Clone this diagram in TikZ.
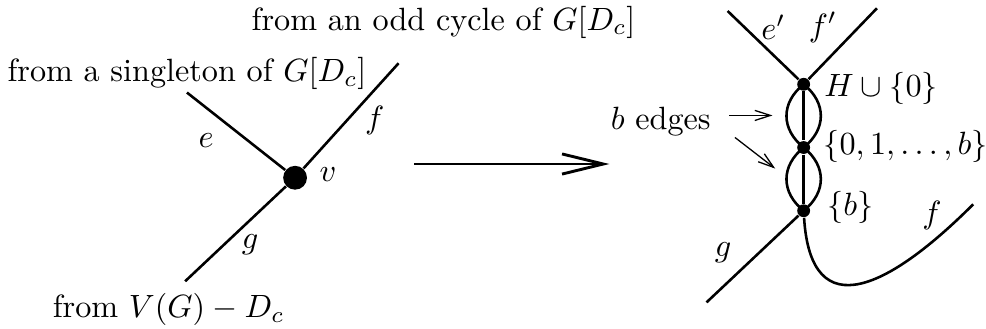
\documentclass[tikz,border=0pt]{standalone}
\usepackage{tikz}
\usetikzlibrary{arrows.meta}

\begin{document}
\begin{tikzpicture}
    % Define styles
    \tikzstyle{edge} = [draw, thick]
    \tikzstyle{bigdot} = [circle, fill, inner sep=0pt, minimum size=2.6mm]
    \tikzstyle{dot} = [circle, fill, inner sep=0pt, minimum size=1.4mm]
    \tikzstyle{pointer} = [draw, -{Straight Barb[length=1.7mm,width=1.1mm]}]
    \tikzstyle{bigarrow} = [draw, line width=0.9pt, -{Straight Barb[length=4.5mm,width=2.2mm]}]

    \useasboundingbox (0,0) rectangle (10.76,3.59);

    % Vertex v and its three edges
    \node [bigdot] (v) at (3.22,1.65) {};
    \coordinate (eend) at (2.04,2.58);
    \coordinate (fend) at (4.35,2.90);
    \coordinate (gend) at (2.02,0.52);
    \path [edge] (eend) -- (v);
    \path [edge] (fend) -- (v);
    \path [edge] (gend) -- (v);

    \node (le) at (2.25,2.06) {$e$};
    \node (lf) at (4.09,2.28) {$f$};
    \node (lv) at (3.58,1.68) {$v$};
    \node (lg) at (2.73,0.92) {$g$};

    % Where the edges come from
    \node (srcsingle) at (2.04,2.79) {from a singleton of $G[D_c]$};
    \node (srcodd) at (4.84,3.35) {from an odd cycle of $G[D_c]$};
    \node (srcrest) at (1.84,0.21) {from $V(G)-D_c$};

    % Replacement
    \coordinate (arrs) at (4.52,1.80);
    \coordinate (arre) at (6.65,1.80);
    \path [bigarrow] (arrs) -- (arre);

    % Split vertex
    \node [dot] (top) at (8.77,2.67) {};
    \node [dot] (mid) at (8.77,1.98) {};
    \node [dot] (bot) at (8.77,1.29) {};
    \coordinate (e2end) at (7.94,3.47);
    \coordinate (f2end) at (9.57,3.50);
    \coordinate (g2end) at (7.71,0.29);
    \coordinate (fcend) at (10.62,1.36);

    \path [edge] (e2end) -- (top);
    \path [edge] (f2end) -- (top);
    \path [edge] (top) -- (mid);
    \path [edge] (mid) -- (bot);
    \path [edge] (top.center) .. controls +(-0.25,-0.2) and +(-0.25,0.2) .. (mid.center);
    \path [edge] (top.center) .. controls +(0.25,-0.2) and +(0.25,0.2) .. (mid.center);
    \path [edge] (mid.center) .. controls +(-0.25,-0.2) and +(-0.25,0.2) .. (bot.center);
    \path [edge] (mid.center) .. controls +(0.25,-0.2) and +(0.25,0.2) .. (bot.center);
    \path [edge] (bot) -- (g2end);
    \path [edge] (bot) .. controls (8.85,0.0) and (9.72,0.46) .. (fcend);

    \node (le2) at (8.44,3.29) {$e'$};
    \node (lf2) at (8.98,3.29) {$f'$};
    \node (lg2) at (7.89,0.83) {$g$};
    \node (lfc) at (10.17,1.24) {$f$};
    \node [anchor=west, inner sep=0pt] (ltop) at (8.99,2.63) {$H\cup\{0\}$};
    \node [anchor=west, inner sep=0pt] (lmid) at (8.98,1.99) {$\{0,1,\ldots,b\}$};
    \node [anchor=west, inner sep=0pt] (lbot) at (9.02,1.33) {$\{b\}$};

    % b edges
    \node (bedges) at (7.21,2.26) {$b$ edges};
    \coordinate (ptra) at (7.96,2.33);
    \coordinate (ptrb) at (8.02,2.09);
    \coordinate (lensa) at (8.43,2.33);
    \coordinate (lensb) at (8.46,1.75);
    \path [pointer] (ptra) -- (lensa);
    \path [pointer] (ptrb) -- (lensb);
\end{tikzpicture}
\end{document}
